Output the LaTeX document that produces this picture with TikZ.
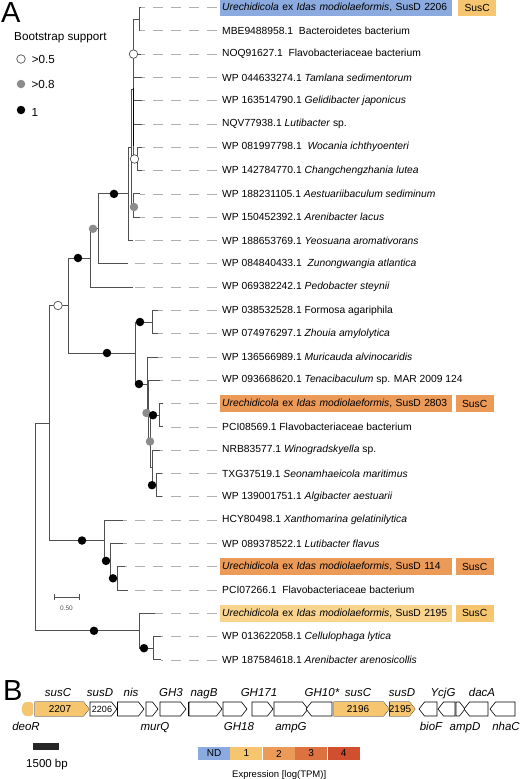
\documentclass[tikz,border=0pt]{standalone}
\usepackage{fontspec}
\setmainfont{Liberation Sans}
\usetikzlibrary{positioning}

\definecolor{branchgray}{HTML}{505050}
\definecolor{dashgray}{HTML}{B0B0B0}
\definecolor{dotgray}{HTML}{8C8C8C}
\definecolor{ndblue}{HTML}{8BAADF}
\definecolor{tpmone}{HTML}{F6C56F}
\definecolor{tpmtwo}{HTML}{EC9A58}
\definecolor{tpmthree}{HTML}{DE7140}
\definecolor{tpmfour}{HTML}{D04F2F}
\definecolor{tpmpale}{HTML}{F9D48E}

\newcommand{\leaffont}{\fontsize{10.3}{12}\selectfont}
\newcommand{\legfont}{\fontsize{11.7}{13}\selectfont}
\newcommand{\panelfont}{\fontsize{29}{30}\selectfont}
\newcommand{\genefont}{\fontsize{11.5}{13}\selectfont\itshape}

% gene arrows: start x, end x, fill
\newcommand{\fwdgene}[3]{\draw[gene, fill=#3] (#1,702) -- ({#2-5.5},702) -- (#2,709) -- ({#2-5.5},716) -- (#1,716) -- cycle;}
\newcommand{\revgene}[3]{\draw[gene, fill=#3] (#2,702) -- ({#1+5.5},702) -- (#1,709) -- ({#1+5.5},716) -- (#2,716) -- cycle;}

\tikzset{
  branch/.style={draw=branchgray, line width=0.9pt},
  guide/.style={draw=dashgray, line width=0.8pt, dash pattern=on 10pt off 8pt, dash phase=15pt},
  leaf/.style={anchor=west, inner xsep=2pt, inner ysep=0pt, font=\leaffont},
  hl/.style={leaf, minimum height=17pt, text width=228pt, align=left},
  susc/.style={minimum height=17pt, minimum width=38pt, inner sep=0pt, font=\leaffont},
  boot/.style={circle, inner sep=0pt, minimum size=8.5pt},
  bsone/.style={boot, fill=black},
  bsmid/.style={boot, fill=dotgray},
  bslow/.style={boot, draw=branchgray, fill=white, line width=0.7pt},
  gene/.style={draw=black, line width=0.6pt},
  glab/.style={anchor=base, inner sep=0pt, font=\genefont},
  cbar/.style={minimum width=32pt, minimum height=13pt, inner sep=0pt, font=\fontsize{10}{11}\selectfont},
}

\begin{document}
\begin{tikzpicture}[x=1pt, y=-1pt]
\useasboundingbox (0,0) rectangle (520,779);

% ---- panel A: legend
\node[anchor=base west, inner sep=0pt, font=\panelfont] (labA) at (1,22) {A};
\node[anchor=base west, inner sep=0pt, font=\legfont] (bstitle) at (14,40) {Bootstrap support};
\node[bslow] (bslo) at (21,59) {};
\node[bsmid] (bsmi) at (21,84) {};
\node[bsone] (bshi) at (21,110) {};
\node[inner sep=0pt, font=\legfont, right=6pt of bslo] (bslotxt) {>0.5};
\node[inner sep=0pt, font=\legfont, right=6pt of bsmi] (bsmitxt) {>0.8};
\node[inner sep=0pt, font=\legfont, right=6pt of bshi, yshift=-2pt] (bshitxt) {1};

% ---- leaf tips
\foreach \i/\x in {0/141,1/140,2/141,3/142,4/142,5/142,6/142,7/142,8/140,9/140,
                   10/133,11/128,12/133,13/158,14/158,15/158,16/160,17/163,18/163,
                   19/160,20/162,21/162,22/123,23/123,24/125,25/128,26/155,27/161,28/161}
  \coordinate (t\i) at (\x,{7.5+23.3*\i});

% ---- inner nodes
\coordinate (root) at (35,527);
\coordinate (nA) at (49,423);
\coordinate (nB) at (68,305.5);
\coordinate (nC2) at (90,258);
\coordinate (nC1) at (98,228.8);
\coordinate (nT) at (128.5,193.9);
\coordinate (nS1) at (131,147.3);
\coordinate (nS2) at (133,89.1);
\coordinate (n01) at (139,19.2);
\coordinate (nS67) at (137,159);
\coordinate (nS89) at (133,205.5);
\coordinate (nD) at (135,353);
\coordinate (nD1) at (152,322);
\coordinate (nE1) at (147,384);
\coordinate (nE2) at (148.5,411);
\coordinate (nE3) at (150,441.5);
\coordinate (n1718) at (159,415.2);
\coordinate (nE4) at (152.5,467.7);
\coordinate (n2021) at (156,485.2);
\coordinate (nH) at (104,540.5);
\coordinate (nH2) at (110,560.9);
\coordinate (nH3) at (117,578.3);
\coordinate (nZ) at (139,630.8);
\coordinate (nZ2) at (153,648.2);

% ---- guides to labels (drawn first)
\foreach \i in {0,...,28}
  \draw[guide] (220,{7.5+23.3*\i}) -- (t\i);

% ---- branches
\draw[branch] (root) |- (nA);
\draw[branch] (root) |- (nZ);
\draw[branch] (nA) |- (nB);
\draw[branch] (nA) |- (nH);
\draw[branch] (nB) |- (nC2);
\draw[branch] (nB) |- (nD);
\draw[branch] (nC2) |- (nC1);
\draw[branch] (nC2) |- (t12);
\draw[branch] (nC1) |- (nT);
\draw[branch] (nC1) |- (t11);
\draw[branch] (nT) |- (nS1);
\draw[branch] (nT) |- (t10);
\draw[branch] (nS1) |- (nS2);
\draw[branch] (nS1) |- (nS89);
\draw[branch] (nS2) |- (n01);
\foreach \i in {2,3,4,5}
  \draw[branch] (nS2) |- (t\i);
\draw[branch] (nS2) |- (nS67);
\draw[branch] (n01) |- (t0);
\draw[branch] (n01) |- (t1);
\draw[branch] (nS67) |- (t6);
\draw[branch] (nS67) |- (t7);
\draw[branch] (nS89) |- (t8);
\draw[branch] (nS89) |- (t9);
\draw[black, line width=1.1pt] (133.3,88) -- (133.3,146);
\draw[branch] (nD) |- (nD1);
\draw[branch] (nD) |- (nE1);
\draw[branch] (nD1) |- (t13);
\draw[branch] (nD1) |- (t14);
\draw[branch] (nE1) |- (t15);
\draw[branch] (nE1) |- (nE2);
\draw[branch] (nE2) |- (t16);
\draw[branch] (nE2) |- (nE3);
\draw[branch] (nE3) |- (n1718);
\draw[branch] (nE3) |- (nE4);
\draw[branch] (n1718) |- (t17);
\draw[branch] (n1718) |- (t18);
\draw[branch] (nE4) |- (t19);
\draw[branch] (nE4) |- (n2021);
\draw[branch] (n2021) |- (t20);
\draw[branch] (n2021) |- (t21);
\draw[branch] (nH) |- (t22);
\draw[branch] (nH) |- (nH2);
\draw[branch] (nH2) |- (t23);
\draw[branch] (nH2) |- (nH3);
\draw[branch] (nH3) |- (t24);
\draw[branch] (nH3) |- (t25);
\draw[branch] (nZ) |- (t26);
\draw[branch] (nZ) |- (nZ2);
\draw[branch] (nZ2) |- (t27);
\draw[branch] (nZ2) |- (t28);

% ---- bootstrap dots
\node[bslow] (b1) at (133.5,54.1) {};
\node[bslow] (b2) at (134.5,159) {};
\node[bsmid] (b3) at (134,207) {};
\node[bsone] (b4) at (114,193.9) {};
\node[bsmid] (b5) at (93,228.8) {};
\node[bsone] (b6) at (78,258) {};
\node[bslow] (b7) at (58,305.5) {};
\node[bsone] (b8) at (107,353) {};
\node[bsone] (b9) at (140,322) {};
\node[bsone] (b10) at (139,384) {};
\node[bsmid] (b11) at (146.5,413) {};
\node[bsone] (b12) at (153,415.2) {};
\node[bsmid] (b13) at (150,441.5) {};
\node[bsone] (b14) at (152,485.2) {};
\node[bsone] (b15) at (82,540.5) {};
\node[bsone] (b16) at (106,560.9) {};
\node[bsone] (b17) at (113,578.3) {};
\node[bsone] (b18) at (94,630.8) {};
\node[bsone] (b19) at (144,648.2) {};

% ---- scale bar
\coordinate (sbl) at (54,597);
\coordinate (sbr) at (79,597);
\draw[branch, line width=0.7pt] (sbl) -- (sbr);
\draw[branch, line width=0.7pt] ([yshift=3pt]sbl) -- ([yshift=-3pt]sbl);
\draw[branch, line width=0.7pt] ([yshift=3pt]sbr) -- ([yshift=-3pt]sbr);
\node[inner sep=0pt, font=\fontsize{6.5}{7}\selectfont, text=branchgray] (sbtxt) at (66.5,608) {0.50};

% ---- leaf labels
\node[hl, fill=ndblue] (l0) at (220,7.5) {\textit{Urechidicola} ex \textit{Idas modiolaeformis}, SusD 2206};
\node[susc, fill=tpmone, anchor=west] (s0) at (458,7.5) {SusC};
\node[leaf] (l1) at (220,30.8) {MBE9488958.1\ \ Bacteroidetes bacterium};
\node[leaf] (l2) at (220,54.1) {NOQ91627.1\ \ Flavobacteriaceae bacterium};
\node[leaf] (l3) at (220,77.4) {WP 044633274.1 \textit{Tamlana sedimentorum}};
\node[leaf] (l4) at (220,100.7) {WP 163514790.1 \textit{Gelidibacter japonicus}};
\node[leaf] (l5) at (220,124) {NQV77938.1 \textit{Lutibacter} sp.};
\node[leaf] (l6) at (220,147.3) {WP 081997798.1\ \ \textit{Wocania ichthyoenteri}};
\node[leaf] (l7) at (220,170.6) {WP 142784770.1 \textit{Changchengzhania lutea}};
\node[leaf] (l8) at (220,193.9) {WP 188231105.1 \textit{Aestuariibaculum sediminum}};
\node[leaf] (l9) at (220,217.2) {WP 150452392.1 \textit{Arenibacter lacus}};
\node[leaf] (l10) at (220,240.5) {WP 188653769.1 \textit{Yeosuana aromativorans}};
\node[leaf] (l11) at (220,263.8) {WP 084840433.1\ \ \textit{Zunongwangia atlantica}};
\node[leaf] (l12) at (220,287.1) {WP 069382242.1 \textit{Pedobacter steynii}};
\node[leaf] (l13) at (220,310.4) {WP 038532528.1 Formosa agariphila};
\node[leaf] (l14) at (220,333.7) {WP 074976297.1 \textit{Zhouia amylolytica}};
\node[leaf] (l15) at (220,357) {WP 136566989.1 \textit{Muricauda alvinocaridis}};
\node[leaf] (l16) at (220,380.3) {WP 093668620.1 \textit{Tenacibaculum} sp. MAR 2009 124};
\node[hl, fill=tpmtwo] (l17) at (220,403.6) {\textit{Urechidicola} ex \textit{Idas modiolaeformis}, SusD 2803};
\node[susc, fill=tpmtwo, right=3pt of l17] (s17) {SusC};
\node[leaf] (l18) at (220,426.9) {PCI08569.1 Flavobacteriaceae bacterium};
\node[leaf] (l19) at (220,450.2) {NRB83577.1 \textit{Winogradskyella} sp.};
\node[leaf] (l20) at (220,473.5) {TXG37519.1 \textit{Seonamhaeicola maritimus}};
\node[leaf] (l21) at (220,496.8) {WP 139001751.1 \textit{Algibacter aestuarii}};
\node[leaf] (l22) at (220,520.1) {HCY80498.1 \textit{Xanthomarina gelatinilytica}};
\node[leaf] (l23) at (220,543.4) {WP 089378522.1 \textit{Lutibacter flavus}};
\node[hl, fill=tpmtwo] (l24) at (220,566.7) {\textit{Urechidicola} ex \textit{Idas modiolaeformis}, SusD 114};
\node[susc, fill=tpmtwo, right=3pt of l24] (s24) {SusC};
\node[leaf] (l25) at (220,590) {PCI07266.1\ \ Flavobacteriaceae bacterium};
\node[hl, fill=tpmpale] (l26) at (220,613.3) {\textit{Urechidicola} ex \textit{Idas modiolaeformis}, SusD 2195};
\node[susc, fill=tpmone, right=3pt of l26] (s26) {SusC};
\node[leaf] (l27) at (220,636.6) {WP 013622058.1 \textit{Cellulophaga lytica}};
\node[leaf] (l28) at (220,659.9) {WP 187584618.1 \textit{Arenibacter arenosicollis}};

% ---- panel B: gene map
\node[anchor=base west, inner sep=0pt, font=\panelfont] (labB) at (3,700) {B};
\draw[fill=tpmone, draw=none, rounded corners=2.5pt] (33,702) -- (24,702) -- (21,709) -- (24,716) -- (33,716) -- cycle;
\fwdgene{35}{89}{tpmone}
\fwdgene{90}{117}{white}
\fwdgene{117.5}{144}{white}
\fwdgene{146}{158}{white}
\fwdgene{160}{186}{white}
\draw[black, line width=1.4pt] (188.3,702) -- (188.3,716);
\fwdgene{189}{222}{white}
\fwdgene{223}{247}{white}
\fwdgene{252}{273}{white}
\fwdgene{274}{308}{white}
\revgene{306}{332}{white}
\fwdgene{334}{389}{tpmone}
\fwdgene{389.5}{415}{tpmone}
\revgene{419}{437}{white}
\revgene{438}{455}{white}
\fwdgene{456}{465}{white}
\revgene{464}{488}{white}
\revgene{490}{515}{white}
% no outline on the expressed genes
\foreach \a/\b in {35/89,334/389,389.5/415}
  \fill[tpmone] (\a,702) -- ({\b-5.5},702) -- (\b,709) -- ({\b-5.5},716) -- (\a,716) -- cycle;

\node[inner sep=0pt, font=\fontsize{10}{11}\selectfont] (g2207) at (60,709) {2207};
\node[inner sep=0pt, font=\fontsize{9}{10}\selectfont] (g2206) at (102,709) {2206};
\node[inner sep=0pt, font=\fontsize{10}{11}\selectfont] (g2196) at (358,709) {2196};
\node[inner sep=0pt, font=\fontsize{10}{11}\selectfont] (g2195) at (400,709) {2195};

\node[glab] (gsusC) at (58,696) {susC};
\node[glab] (gsusD) at (100,696) {susD};
\node[glab] (gnis) at (131,696) {nis};
\node[glab] (gGHthree) at (171,696) {GH3};
\node[glab] (gnagB) at (204,696) {nagB};
\node[glab] (gGHoneseven) at (259,696) {GH171};
\node[glab] (gGHten) at (322,696) {GH10*};
\node[glab] (gsusCb) at (358,696) {susC};
\node[glab] (gsusDb) at (402,696) {susD};
\node[glab] (gYcjG) at (443,696) {YcjG};
\node[glab] (gdacA) at (482,696) {dacA};
\node[glab] (gdeoR) at (26,730) {deoR};
\node[glab] (gmurQ) at (155,730) {murQ};
\node[glab] (gGHeight) at (239,730) {GH18};
\node[glab] (gampG) at (291,730) {ampG};
\node[glab] (gbioF) at (431,730) {bioF};
\node[glab] (gampD) at (465,730) {ampD};
\node[glab] (gnhaC) at (506,730) {nhaC};

% ---- bp scale bar
\fill[black!85] (33,743) rectangle (59,750);
\node[anchor=base, inner sep=0pt, font=\fontsize{11.5}{13}\selectfont] (bptxt) at (47,767) {1500 bp};

% ---- expression colour bar
\node[cbar, fill=ndblue] (cND) at (214,753.5) {ND};
\node[cbar, fill=tpmone, right=0pt of cND] (cone) {1};
\node[cbar, fill=tpmtwo, right=0pt of cone] (ctwo) {2};
\node[cbar, fill=tpmthree, right=0pt of ctwo] (cthree) {3};
\node[cbar, fill=tpmfour, right=0pt of cthree] (cfour) {4};
\node[anchor=base west, inner sep=0pt, font=\fontsize{9.5}{11}\selectfont] (cbtitle) at (232,777) {Expression [log(TPM)]};

\end{tikzpicture}
\end{document}
